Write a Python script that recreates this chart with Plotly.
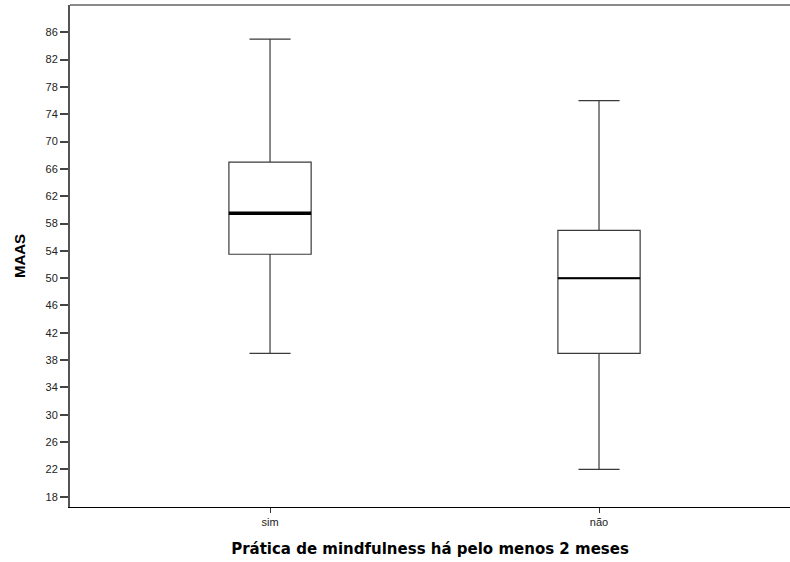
import plotly.graph_objects as go

categories = ["sim", "não"]
lower_whisker = [39, 22]
q1 = [53.5, 39]
median = [59.5, 50]
q3 = [67, 57]
upper_whisker = [85, 76]
y_ticks = list(range(18, 87, 4))

box_width = 0.25
median_widths = [3.5, 2]

fig = go.Figure()
for i, cat in enumerate(categories):
    fig.add_trace(go.Box(
        x=[i], q1=[q1[i]], median=[median[i]], q3=[q3[i]],
        lowerfence=[lower_whisker[i]], upperfence=[upper_whisker[i]],
        width=box_width, whiskerwidth=0.5,
        fillcolor="white", line=dict(color="#3a3a3a", width=1.2),
        boxpoints=False, showlegend=False, hoverinfo="skip", name=cat,
    ))
    fig.add_trace(go.Scatter(
        x=[i - box_width / 2, i + box_width / 2], y=[median[i], median[i]],
        mode="lines", line=dict(color="black", width=median_widths[i]),
        showlegend=False, hoverinfo="skip",
    ))

fig.update_layout(
    width=790, height=562,
    margin=dict(l=70, r=0, t=5, b=55),
    plot_bgcolor="white", paper_bgcolor="white",
    font=dict(family="Liberation Sans, Arial, sans-serif", color="#222"),
    shapes=[dict(type="line", xref="paper", yref="paper", x0=0, x1=1, y0=1, y1=1,
                 line=dict(color="#8a8a8a", width=2))],
)
fig.update_xaxes(
    range=[-0.608, 1.5805],
    tickvals=list(range(len(categories))), ticktext=categories,
    ticks="outside", ticklen=5, tickcolor="#333", tickwidth=1,
    showline=True, linecolor="black", linewidth=1,
    showgrid=False, zeroline=False,
    tickfont=dict(size=11, color="#222"),
    title=dict(text="<b>Prática de mindfulness há pelo menos 2 meses</b>",
               font=dict(family="DejaVu Sans, Verdana, sans-serif", size=15, color="black"),
               standoff=16),
)
fig.update_yaxes(
    range=[16.49, 90.0],
    tickvals=y_ticks, ticktext=[str(v) for v in y_ticks],
    ticks="outside", ticklen=8, tickcolor="#444", tickwidth=1.5,
    showline=True, linecolor="#555", linewidth=2,
    showgrid=False, zeroline=False,
    tickfont=dict(size=11, color="#222"),
    title=dict(text="<b>MAAS</b>",
               font=dict(family="Liberation Sans, Arial, sans-serif", size=15, color="black"),
               standoff=16),
)

fig.write_html("out.html", config={"displayModeBar": False},
               post_script="document.body.style.margin='0';")
